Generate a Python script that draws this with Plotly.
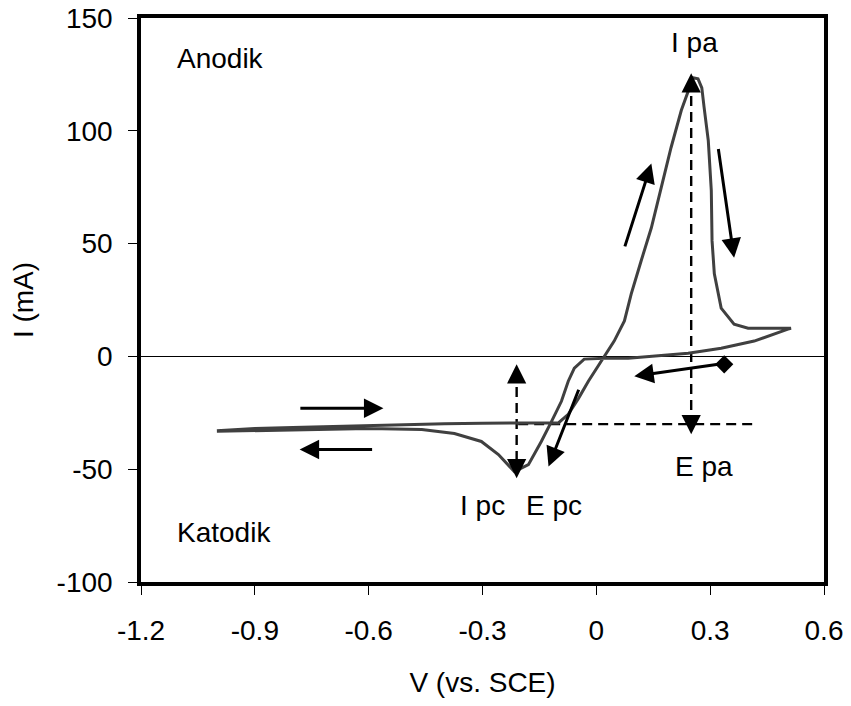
import plotly.graph_objects as go

# Cyclic voltammogram
V = [-1.0, -0.95, -0.9, -0.8, -0.7, -0.6, -0.5, -0.4, -0.3, -0.2, -0.1,
     -0.074, -0.047, -0.021, 0.013, 0.026, 0.047, 0.074, 0.092, 0.118, 0.145,
     0.171, 0.197, 0.224, 0.242, 0.255, 0.268, 0.278, 0.284, 0.295, 0.303,
     0.305, 0.311, 0.329, 0.363, 0.40, 0.487, 0.513,
     0.505, 0.416, 0.329, 0.242, 0.084, 0.021, -0.032, -0.058, -0.074,
     -0.092, -0.118, -0.145, -0.179, -0.216, -0.258, -0.303, -0.374, -0.46,
     -0.6, -0.8, -0.95, -1.0]
I = [-33.0, -32.5, -32.0, -31.5, -31.0, -30.5, -30.0, -29.8, -29.6, -29.5, -29.5,
     -25.7, -18.6, -11.0, -2.1, 1.0, 6.8, 15.7, 27.7, 42.3, 57.0,
     74.8, 92.6, 109.1, 118.0, 123.5, 123.0, 119.0, 110.4, 95.7, 73.5,
     51.2, 36.6, 21.4, 14.3, 12.5, 12.5, 12.5,
     12.1, 6.8, 3.6, 1.4, -0.8, -0.8, -1.2, -5.2, -11.0,
     -19.9, -28.8, -37.7, -48.0, -51.1, -43.5, -37.7, -34.2, -32.4,
     -32.0, -32.5, -33.0, -33.2]

x_ticks = [-1.2, -0.9, -0.6, -0.3, 0, 0.3, 0.6]
x_labels = ["-1.2", "-0.9", "-0.6", "-0.3", "0", "0.3", "0.6"]
y_ticks = [-100, -50, 0, 50, 100, 150]
y_labels = ["-100", "-50", "0", "50", "100", "150"]

Epc, Epa = -0.21, 0.25
Ipc_top, Ipc_bot = -3.5, -54.0
Ipa_top, Ipa_bot = 125.5, -34.5
base_I = -30.0
base_x0, base_x1 = -0.206, 0.416

FONT = "Liberation Sans, Arial, sans-serif"
FS = 28

fig = go.Figure()

DASH = dict(color="black", width=2.4, dash="10px,6px")
fig.add_trace(go.Scatter(x=[base_x0, base_x1], y=[base_I, base_I], mode="lines",
                         line=DASH, hoverinfo="skip"))
fig.add_trace(go.Scatter(x=[Epc, Epc], y=[Ipc_top - 3, Ipc_bot + 3], mode="lines",
                         line=DASH, hoverinfo="skip"))
fig.add_trace(go.Scatter(x=[Epa, Epa], y=[Ipa_top - 3, Ipa_bot + 3], mode="lines",
                         line=DASH, hoverinfo="skip"))

# CV curve
fig.add_trace(go.Scatter(x=V, y=I, mode="lines",
                         line=dict(color="#404040", width=3), hoverinfo="skip"))

# diamond start of the arrow
fig.add_trace(go.Scatter(x=[0.337], y=[-3.5], mode="markers",
                         marker=dict(symbol="diamond", size=14, color="black"), hoverinfo="skip"))

def arrow(x0, y0, x1, y1, w=3, size=1.3):
    fig.add_annotation(x=x1, y=y1, ax=x0, ay=y0, xref="x", yref="y", axref="x", ayref="y",
                       showarrow=True, arrowhead=2, arrowwidth=w, arrowsize=size,
                       arrowcolor="black", text="")

def head(x, y, dy_px):
    fig.add_annotation(x=x, y=y, ax=0, ay=dy_px, xref="x", yref="y",
                       showarrow=True, arrowhead=2, arrowwidth=2.4, arrowsize=1.6,
                       arrowcolor="black", text="")

arrow(-0.784, -23.0, -0.561, -23.0)
arrow(-0.587, -41.3, -0.782, -41.3)
arrow(-0.045, -14.1, -0.126, -48.8)
arrow(0.33, -3.3, 0.10, -8.8)
arrow(0.074, 48.1, 0.145, 85.5)
arrow(0.321, 92.6, 0.363, 43.7)

# dashed arrow heads
head(Epc, Ipc_top, 16)
head(Epc, Ipc_bot, -16)
head(Epa, Ipa_top, 16)
head(Epa, Ipa_bot, -16)

def label(x, y, t, anchor="center"):
    fig.add_annotation(x=x, y=y, xref="x", yref="y", text=t, showarrow=False,
                       xanchor=anchor, yanchor="middle",
                       font=dict(family=FONT, size=FS, color="black"))

label(-1.110, 132, "Anodik", "left")
label(-1.110, -78, "Katodik", "left")
label(0.260, 139, "I pa")
label(-0.299, -66, "I pc")
label(-0.112, -66, "E pc")
label(0.283, -48.6, "E pa")

fig.update_layout(
    width=851, height=706,
    margin=dict(l=141, r=27, t=18, b=124),
    paper_bgcolor="white", plot_bgcolor="white",
    showlegend=False,
    font=dict(family=FONT, size=FS, color="black"),
    xaxis=dict(range=[-1.2, 0.6], tickvals=x_ticks, ticktext=x_labels,
               automargin=False,
               showgrid=False, zeroline=False, showline=True, linecolor="black",
               linewidth=3.5, mirror=True, ticks="outside", ticklen=9, tickwidth=1,
               tickcolor="black", ticklabelstandoff=12, ticklabeloverflow="allow",
               tickfont=dict(size=FS),
               title=dict(text="V (vs. SCE)", font=dict(size=FS), standoff=28)),
    yaxis=dict(range=[-100, 150], tickvals=y_ticks, ticktext=y_labels,
               automargin=False,
               showgrid=False, zeroline=True, zerolinecolor="black", zerolinewidth=1,
               showline=True, linecolor="black", linewidth=3.5, mirror=True,
               ticks="outside", ticklen=9, tickwidth=1, tickcolor="black",
               ticklabelstandoff=10, ticklabeloverflow="allow", tickfont=dict(size=FS),
               title=dict(text="I (mA)", font=dict(size=FS), standoff=16)),
)

fig.write_html("out.html", config={"displayModeBar": False},
               post_script="document.body.style.margin='0';document.body.style.overflow='hidden';")
